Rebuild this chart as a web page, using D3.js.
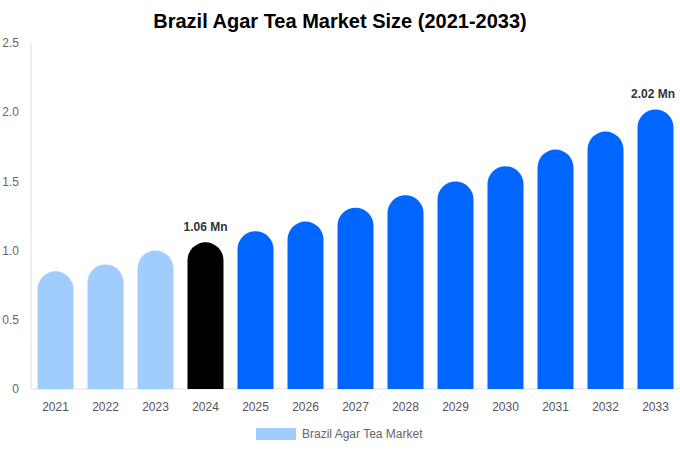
<!DOCTYPE html>
<html>
<head>
<meta charset="utf-8">
<script src="https://cdn.jsdelivr.net/npm/d3@7.9.0/dist/d3.min.js"></script>
<style>
  body { margin: 0; background: #fff; font-family: "Liberation Sans", Arial, sans-serif; }
  svg { display: block; }
</style>
</head>
<body>
<div id="chart"></div>
<script>
const years = ['2021', '2022', '2023', '2024', '2025', '2026', '2027', '2028', '2029', '2030', '2031', '2032', '2033'];
const values = [0.85, 0.90, 1.00, 1.06, 1.14, 1.21, 1.31, 1.40, 1.50, 1.61, 1.73, 1.86, 2.02];
const yTicks = [0, 0.5, 1.0, 1.5, 2.0, 2.5];
const labelled = { '2024': '1.06 Mn', '2033': '2.02 Mn' };

const width = 680;
const height = 450;
const margin = { top: 43, right: 0, bottom: 61, left: 31 };

const svg = d3.select('#chart')
  .append('svg')
  .attr('width', width)
  .attr('height', height);

svg.append('text')
  .attr('x', 340)
  .attr('y', 28)
  .attr('text-anchor', 'middle')
  .style('font-size', '20px')
  .style('font-weight', 'bold')
  .style('fill', '#000')
  .text('Brazil Agar Tea Market Size (2021-2033)');

const xScale = d3.scaleBand()
  .domain(years)
  .range([margin.left - 0.5, width + 0.5])
  .paddingInner(0.28)
  .paddingOuter(0.14);

const yScale = d3.scaleLinear()
  .domain([0, 2.5])
  .range([height - margin.bottom, margin.top]);

// axis lines
svg.append('line')
  .attr('x1', margin.left).attr('x2', margin.left)
  .attr('y1', yScale(2.5)).attr('y2', yScale(0))
  .attr('stroke', '#e0e0e0');
svg.append('line')
  .attr('x1', margin.left).attr('x2', width)
  .attr('y1', yScale(0)).attr('y2', yScale(0))
  .attr('stroke', '#e0e0e0');

svg.append('g')
  .selectAll('text')
  .data(yTicks)
  .join('text')
  .attr('x', 19)
  .attr('y', d => yScale(d))
  .attr('dy', '0.35em')
  .attr('text-anchor', 'end')
  .style('font-size', '12px')
  .style('fill', '#666')
  .text(d => d === 0 ? '0' : d.toFixed(1));

svg.append('g')
  .selectAll('text')
  .data(years)
  .join('text')
  .attr('x', d => xScale(d) + xScale.bandwidth() / 2)
  .attr('y', yScale(0) + 22)
  .attr('text-anchor', 'middle')
  .style('font-size', '12px')
  .style('fill', '#555')
  .text(d => d);

function barColor(year) {
  if (+year < 2024) return '#a0cdfd';
  if (+year === 2024) return '#000000';
  return '#0066ff';
}

function barPath(x, w, yTop, yBottom) {
  const r = w / 2;
  return `M${x},${yBottom}V${yTop + r}A${r},${r} 0 0 1 ${x + w},${yTop + r}V${yBottom}Z`;
}

svg.append('g')
  .selectAll('path')
  .data(years.map((y, i) => ({ year: y, value: values[i] })))
  .join('path')
  .attr('d', d => barPath(xScale(d.year), xScale.bandwidth(), yScale(d.value), yScale(0)))
  .attr('fill', d => barColor(d.year));

svg.append('g')
  .selectAll('text')
  .data(years.map((y, i) => ({ year: y, value: values[i] })).filter(d => labelled[d.year]))
  .join('text')
  .attr('x', d => Math.min(xScale(d.year) + xScale.bandwidth() / 2, width - 27))
  .attr('y', d => yScale(d.value) - 11)
  .attr('text-anchor', 'middle')
  .style('font-size', '12px')
  .style('font-weight', 'bold')
  .style('fill', '#333')
  .text(d => labelled[d.year]);

// legend
svg.append('rect')
  .attr('x', 256).attr('y', 428)
  .attr('width', 40).attr('height', 12)
  .attr('fill', '#a0cdfd');
svg.append('text')
  .attr('x', 302).attr('y', 434)
  .attr('dy', '0.35em')
  .style('font-size', '12px')
  .style('fill', '#666')
  .text('Brazil Agar Tea Market');
</script>
</body>
</html>
